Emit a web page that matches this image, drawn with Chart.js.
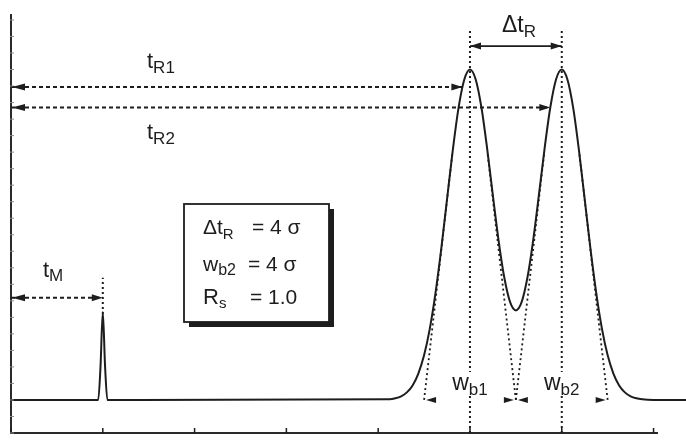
<!DOCTYPE html>
<html>
<head>
<meta charset="utf-8">
<script src="https://cdn.jsdelivr.net/npm/chart.js@4.4.1/dist/chart.umd.min.js"></script>
<style>
  html, body { margin: 0; padding: 0; background: #ffffff; }
  #wrap { width: 686px; height: 440px; }
</style>
</head>
<body>
<div id="wrap"><canvas id="chrom" width="686" height="440"></canvas></div>
<script>
// Detector trace: time in units of sigma, signal in % of the main peak height
const traceTime = [0, 3.8, 3.9, 4, 4.1, 4.2,
  16.5, 16.75, 17, 17.25, 17.5, 17.75, 18, 18.25, 18.5, 18.75,
  19, 19.25, 19.5, 19.75, 20, 20.25, 20.5, 20.75, 21, 21.25, 21.5, 21.75,
  22, 22.25, 22.5, 22.75, 23, 23.25, 23.5, 23.75, 24, 24.25, 24.5, 24.75,
  25, 25.25, 25.5, 25.75, 26, 26.25, 26.5, 26.75, 27, 27.25, 27.5, 28, 29.6];
const traceSignal = [0, 0, 10, 26.6, 10, 0,
  0.2, 0.5, 1.1, 2.3, 4.4, 8.0, 13.5, 21.6, 32.5, 45.8,
  60.7, 75.5, 88.3, 96.9, 100, 97.0, 88.5, 76.0, 61.8, 48.1, 36.9, 29.6,
  27.1, 29.6, 36.9, 48.1, 61.8, 76.0, 88.5, 97.0, 100, 96.9, 88.3, 75.5,
  60.7, 45.8, 32.5, 21.6, 13.5, 8.0, 4.4, 2.3, 1.1, 0.5, 0.2, 0, 0];

// Retention markers: tM, tR1, tR2
const markerTimes = [4, 20, 24];
const markerArrowLevels = [30.9, 94.7, 88.5];   // heights of the horizontal time arrows
const markerArrowEnds = [4, 19.67, 23.5];       // where each arrow meets its peak
const markerLineTops = [37, 112.6, 112.6];      // upper end of the dotted verticals
const markerLineBottoms = [26, -10, -10];

// Separation arrow between the two peak maxima
const deltaLevel = 107.1;

// Tangents through the inflection points (feet on the baseline)
const tangentFeet = [18, 22, 22, 26];
const tangentTips = [19.24, 20.76, 23.24, 24.76];
const tangentTipLevel = 75;

// Base widths wb1, wb2 measured on the baseline
const baseWidthStarts = [18, 22];
const baseWidthEnds = [22, 26];

const timeTicks = [0, 4, 8, 12, 16, 20, 24, 28];
const signalTicks = [-10, -5, 0, 5, 10, 15, 20, 25, 30, 35, 40, 45, 50, 55, 60, 65, 70, 75, 80, 85, 90, 95, 100, 105, 110, 115];

const INK = '#1d1d1d';
const FONT = '"Liberation Sans", Arial, Helvetica, sans-serif';

const pts = (xs, ys) => xs.map((x, i) => ({ x, y: ys[i] }));

const datasets = [];
datasets.push({
  data: pts(traceTime, traceSignal),
  borderColor: INK, borderWidth: 2,
  cubicInterpolationMode: 'monotone', pointRadius: 0, clip: false
});
// dashed horizontal time arrows
markerTimes.forEach((t, i) => {
  datasets.push({
    data: [{ x: 0, y: markerArrowLevels[i] }, { x: markerArrowEnds[i], y: markerArrowLevels[i] }],
    borderColor: INK, borderWidth: 2, borderDash: [4, 3], pointRadius: 0, clip: false
  });
});
// dotted verticals through each maximum
markerTimes.forEach((t, i) => {
  datasets.push({
    data: [{ x: t, y: markerLineBottoms[i] }, { x: t, y: markerLineTops[i] }],
    borderColor: INK, borderWidth: 2, borderDash: [2, 3], pointRadius: 0, clip: false
  });
});
// tangent lines
tangentFeet.forEach((f, i) => {
  datasets.push({
    data: [{ x: f, y: 0 }, { x: tangentTips[i], y: tangentTipLevel }],
    borderColor: INK, borderWidth: 1.8, borderDash: [2, 3], pointRadius: 0
  });
});
// delta tR arrow shaft
datasets.push({
  data: [{ x: markerTimes[1], y: deltaLevel }, { x: markerTimes[2], y: deltaLevel }],
  borderColor: INK, borderWidth: 1.8, pointRadius: 0, clip: false
});

function arrowHead(ctx, x, y, dir, len, half) {
  ctx.beginPath();
  ctx.moveTo(x, y);
  ctx.lineTo(x - dir * len, y - half);
  ctx.lineTo(x - dir * len, y + half);
  ctx.closePath();
  ctx.fill();
}

function subLabel(ctx, main, sub, x, y, size, subSize, drop) {
  ctx.font = size + 'px ' + FONT;
  ctx.fillText(main, x, y);
  const w = ctx.measureText(main).width;
  ctx.font = subSize + 'px ' + FONT;
  ctx.fillText(sub, x + w, y + drop);
  return w + ctx.measureText(sub).width;
}

function subWidth(ctx, main, sub, size, subSize) {
  ctx.font = size + 'px ' + FONT;
  const w = ctx.measureText(main).width;
  ctx.font = subSize + 'px ' + FONT;
  return w + ctx.measureText(sub).width;
}

const decorations = {
  id: 'decorations',
  afterDatasetsDraw(chart) {
    const ctx = chart.ctx;
    const xs = chart.scales.x, ys = chart.scales.y;
    const X = v => xs.getPixelForValue(v);
    const Y = v => ys.getPixelForValue(v);
    ctx.save();
    ctx.fillStyle = INK;
    ctx.strokeStyle = INK;

    // axis tick marks: inward on the time axis, short on the signal axis
    ctx.lineWidth = 1.5;
    timeTicks.forEach(t => {
      ctx.beginPath(); ctx.moveTo(X(t), Y(-10)); ctx.lineTo(X(t), Y(-10) - 5); ctx.stroke();
    });
    ctx.strokeStyle = '#8a8a8a';
    ctx.lineWidth = 1;
    signalTicks.forEach(s => {
      ctx.beginPath(); ctx.moveTo(X(0) - 1, Y(s)); ctx.lineTo(X(0) + 3, Y(s)); ctx.stroke();
    });
    ctx.strokeStyle = INK;

    // arrowheads of the time arrows
    markerTimes.forEach((t, i) => {
      arrowHead(ctx, X(0) + 1, Y(markerArrowLevels[i]), -1, 13, 3.5);
      arrowHead(ctx, X(markerArrowEnds[i]), Y(markerArrowLevels[i]), 1, 11, 3.5);
    });
    arrowHead(ctx, X(markerTimes[1]), Y(deltaLevel), -1, 11, 3.5);
    arrowHead(ctx, X(markerTimes[2]), Y(deltaLevel), 1, 11, 3.5);
    baseWidthStarts.forEach((s, i) => {
      arrowHead(ctx, X(s) + 2, Y(0), -1, 10, 3);
      arrowHead(ctx, X(baseWidthEnds[i]) - 2, Y(0), 1, 10, 3);
    });

    ctx.textBaseline = 'alphabetic';
    ctx.textAlign = 'left';

    // retention labels
    subLabel(ctx, 't', 'R1', 147, 68, 22, 17, 5);
    subLabel(ctx, 't', 'R2', 147, 139, 22, 17, 5);
    subLabel(ctx, 't', 'M', 43, 277, 22, 17, 4);
    subLabel(ctx, '\u0394t', 'R', 502, 32, 23, 17, 5);

    // base width labels centred on the peak verticals, masking the dotted lines
    [['w', 'b1', markerTimes[1]], ['w', 'b2', markerTimes[2]]].forEach(([m, s, t]) => {
      const w = subWidth(ctx, m, s, 23, 17);
      const cx = X(t);
      ctx.fillStyle = '#ffffff';
      ctx.fillRect(cx - w / 2 - 2, Y(0) - 28, w + 4, 24);
      ctx.fillStyle = INK;
      subLabel(ctx, m, s, cx - w / 2, Y(0) - 10, 23, 17, 5);
    });

    // parameter box with a drop shadow
    const bx = 184, by = 204, bw = 145, bh = 118;
    ctx.fillStyle = INK;
    ctx.fillRect(bx + 5, by + 5, bw, bh);
    ctx.fillStyle = '#ffffff';
    ctx.fillRect(bx, by, bw, bh);
    ctx.lineWidth = 1.8;
    ctx.strokeRect(bx, by, bw, bh);
    ctx.fillStyle = INK;
    subLabel(ctx, '\u0394t', 'R', 203, 234, 21, 15, 5);
    ctx.font = '21px ' + FONT;
    ctx.fillText('= 4 \u03c3', 252, 234);
    subLabel(ctx, 'w', 'b2', 203, 271, 21, 16, 4);
    ctx.font = '21px ' + FONT;
    ctx.fillText('= 4 \u03c3', 248, 271);
    subLabel(ctx, 'R', 's', 203, 304, 22, 15, 4);
    ctx.font = '21px ' + FONT;
    ctx.fillText('= 1.0', 250, 304);

    ctx.restore();
  }
};

new Chart(document.getElementById('chrom'), {
  type: 'line',
  data: { datasets },
  options: {
    responsive: false,
    animation: false,
    events: [],
    layout: { padding: { left: 11, right: 29, top: 15, bottom: 7 } },
    plugins: { legend: { display: false }, tooltip: { enabled: false } },
    scales: {
      x: {
        type: 'linear', min: 0, max: 28.15,
        ticks: { display: false },
        grid: { display: false, drawTicks: false },
        border: { display: true, color: '#2a2a2a', width: 2 }
      },
      y: {
        type: 'linear', min: -10, max: 116.5,
        ticks: { display: false },
        grid: { display: false, drawTicks: false },
        border: { display: true, color: '#2a2a2a', width: 2 }
      }
    }
  },
  plugins: [decorations]
});
</script>
</body>
</html>
